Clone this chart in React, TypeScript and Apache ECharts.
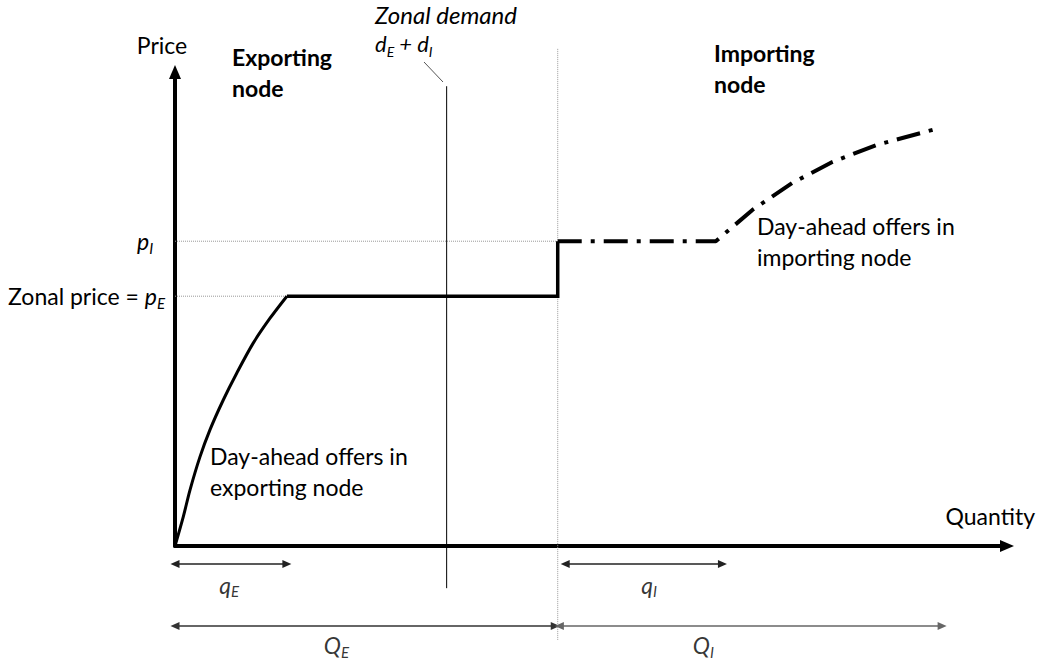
import React, { useEffect, useRef } from 'react';
import * as echarts from 'echarts';

const FONT = 'Lato, "Open Sans", sans-serif';

// price levels (axis units 0..100)
const zonalPriceE = 52.7;
const priceI = 64.3;
// quantity marks (axis units 0..100)
const qE = 13.45;
const demandQ = 32.65;
const QE = 46;
const qIStart = 46.9;
const qIEnd = 65.8;
const QIStart = 46.2;
const QEEnd = 45.7;
const QIEnd = 92.2;
const demandBottom = -8.9;
const demandTop = 97;
const dividerBottom = -19.8;
const dividerTop = 105;
const qRowY = -3.8;
const QRowY = -16.9;

// supply curves
const exportCurveX = [0, 1.0, 1.8, 3.0, 4.2, 5.8, 7.4, 9.4, 11.4, 13.45];
const exportCurveY = [0, 6.2, 11.8, 18.8, 24.5, 30.8, 36.4, 42.8, 48.0, 52.7];
const importX = [46, 65, 69.4, 74.2, 79, 84.3, 91.5];
const importY = [64.3, 64.3, 70.9, 76.6, 81, 84.6, 88];

// label anchors: [x, y, main, subscript]
const dimLabels: [number, number, string, string][] = [
  [6.5, -8.2, 'q', 'E'],
  [57.0, -8.2, 'q', 'I'],
  [19.4, -20.9, 'Q', 'E'],
  [63.5, -20.9, 'Q', 'I'],
];

const yLabelValues = [zonalPriceE, priceI];

const rich = {
  n: { fontSize: 23, fontFamily: FONT, color: '#000', lineHeight: 28 },
  i: { fontSize: 23, fontFamily: FONT, fontStyle: 'italic', color: '#000', lineHeight: 28 },
  s: { fontSize: 15, fontFamily: FONT, fontStyle: 'italic', color: '#000', lineHeight: 14, verticalAlign: 'bottom' },
};

function dimArrow(x1: number, x2: number, y: number, color: string) {
  return {
    type: 'line',
    clip: false,
    silent: true,
    showAllSymbol: true,
    lineStyle: { color, width: 1.5 },
    itemStyle: { color },
    data: [
      { value: [x1, y], symbol: 'triangle', symbolSize: [8, 9], symbolRotate: 90 },
      { value: [x2, y], symbol: 'triangle', symbolSize: [8, 9], symbolRotate: -90 },
    ],
  };
}

export default function App() {
  const ref = useRef<HTMLDivElement>(null);
  useEffect(() => {
    if (!ref.current) return;
    const chart = echarts.init(ref.current, null, { renderer: 'svg' });
    const option: any = {
      animation: false,
      backgroundColor: '#fff',
      grid: { left: 175, right: 30, top: 72, bottom: 117, containLabel: false },
      xAxis: {
        type: 'value',
        min: 0,
        max: 100,
        splitLine: { show: false },
        axisTick: { show: false },
        axisLabel: { show: false },
        axisLine: {
          show: true,
          symbol: ['none', 'triangle'],
          symbolSize: [12, 14],
          lineStyle: { color: '#000', width: 4 },
        },
        name: 'Quantity',
        nameLocation: 'end',
        nameGap: 28,
        nameTextStyle: {
          fontFamily: FONT, fontSize: 23, color: '#000',
          align: 'right', verticalAlign: 'bottom', padding: [0, 0, 19, 0],
        },
      },
      yAxis: {
        type: 'value',
        min: 0,
        max: 100,
        splitLine: { show: false },
        axisTick: { show: false },
        axisLine: {
          show: true,
          symbol: ['none', 'triangle'],
          symbolSize: [12, 14],
          lineStyle: { color: '#000', width: 4 },
        },
        axisLabel: {
          show: true,
          customValues: yLabelValues,
          margin: 10,
          fontFamily: FONT,
          fontSize: 23,
          color: '#000',
          lineHeight: 28,
          formatter: (v: number) =>
            v === zonalPriceE ? 'Zonal price = {i|p}{s|E}' : '{i|p}{s|I}  ',
          rich,
        },
        name: 'Price',
        nameLocation: 'end',
        nameGap: 16,
        nameTextStyle: {
          fontFamily: FONT, fontSize: 23, color: '#000',
          align: 'center', verticalAlign: 'bottom', padding: [0, 26, 0, 0],
        },
      },
      series: [
        // dotted guides
        {
          type: 'line', clip: false, silent: true, symbol: 'none',
          lineStyle: { color: '#999', width: 1, type: 'dotted' },
          data: [[0, zonalPriceE], [qE, zonalPriceE]],
        },
        {
          type: 'line', clip: false, silent: true, symbol: 'none',
          lineStyle: { color: '#999', width: 1, type: 'dotted' },
          data: [[0, priceI], [QE, priceI]],
        },
        {
          type: 'line', clip: false, silent: true, symbol: 'none',
          lineStyle: { color: '#999', width: 1, type: 'dotted' },
          data: [[QE, dividerBottom], [QE, dividerTop]],
        },
        // zonal demand
        {
          type: 'line', clip: false, silent: true, symbol: 'none',
          lineStyle: { color: '#000', width: 1 },
          data: [[demandQ, demandBottom], [demandQ, demandTop]],
        },
        // exporting offers curve
        {
          type: 'line', clip: false, silent: true, symbol: 'none', smooth: 0.3,
          lineStyle: { color: '#000', width: 3 },
          data: exportCurveX.map((x, k) => [x, exportCurveY[k]]),
        },
        {
          type: 'line', clip: false, silent: true, symbol: 'none',
          lineStyle: { color: '#000', width: 3.5, join: 'miter' },
          data: [[qE, zonalPriceE], [QE, zonalPriceE], [QE, priceI]],
        },
        // importing offers curve (dash-dot)
        {
          type: 'line', clip: false, silent: true, symbol: 'none',
          lineStyle: { color: '#000', width: 4, type: [24, 9, 4, 9] },
          data: importX.map((x, k) => [x, importY[k]]),
        },
        dimArrow(0, qE, qRowY, '#222'),
        dimArrow(qIStart, qIEnd, qRowY, '#222'),
        dimArrow(0, QEEnd, QRowY, '#333'),
        dimArrow(QIStart, QIEnd, QRowY, '#666'),
        {
          type: 'scatter', clip: false, silent: true, symbolSize: 0,
          label: {
            show: true,
            position: 'inside',
            formatter: (p: any) => `{i|${p.data[2]}}{s|${p.data[3]}}`,
            rich,
          },
          data: dimLabels,
        },
      ],
      graphic: [
        {
          type: 'text', left: 232, top: 41,
          style: { text: 'Exporting\nnode', font: `bold 23px ${FONT}`, fill: '#000', lineHeight: 31 },
        },
        {
          type: 'text', left: 714, top: 37,
          style: { text: 'Importing\nnode', font: `bold 23px ${FONT}`, fill: '#000', lineHeight: 31 },
        },
        {
          type: 'text', left: 375, top: 2,
          style: {
            text: '{z|Zonal demand}\n{i|d}{s|E}{i| + d}{s|I}',
            rich: {
              z: { ...rich.i, fontSize: 24, lineHeight: 28 },
              i: { ...rich.i, fontSize: 22, lineHeight: 30 },
              s: { ...rich.s, fontSize: 14 },
            },
          },
        },
        {
          type: 'line',
          shape: { x1: 424, y1: 62, x2: 443, y2: 82 },
          style: { stroke: '#555', lineWidth: 1 },
        },
        {
          type: 'text', left: 210, top: 440,
          style: { text: 'Day-ahead offers in\nexporting node', font: `23px ${FONT}`, fill: '#000', lineHeight: 31 },
        },
        {
          type: 'text', left: 757, top: 210,
          style: { text: 'Day-ahead offers in\nimporting node', font: `23px ${FONT}`, fill: '#000', lineHeight: 31 },
        },
      ],
    };
    chart.setOption(option);
    return () => chart.dispose();
  }, []);
  return (
    <div
      ref={ref}
      style={{ position: 'absolute', left: 0, top: 0, width: 1038, height: 663, background: '#fff' }}
    />
  );
}
